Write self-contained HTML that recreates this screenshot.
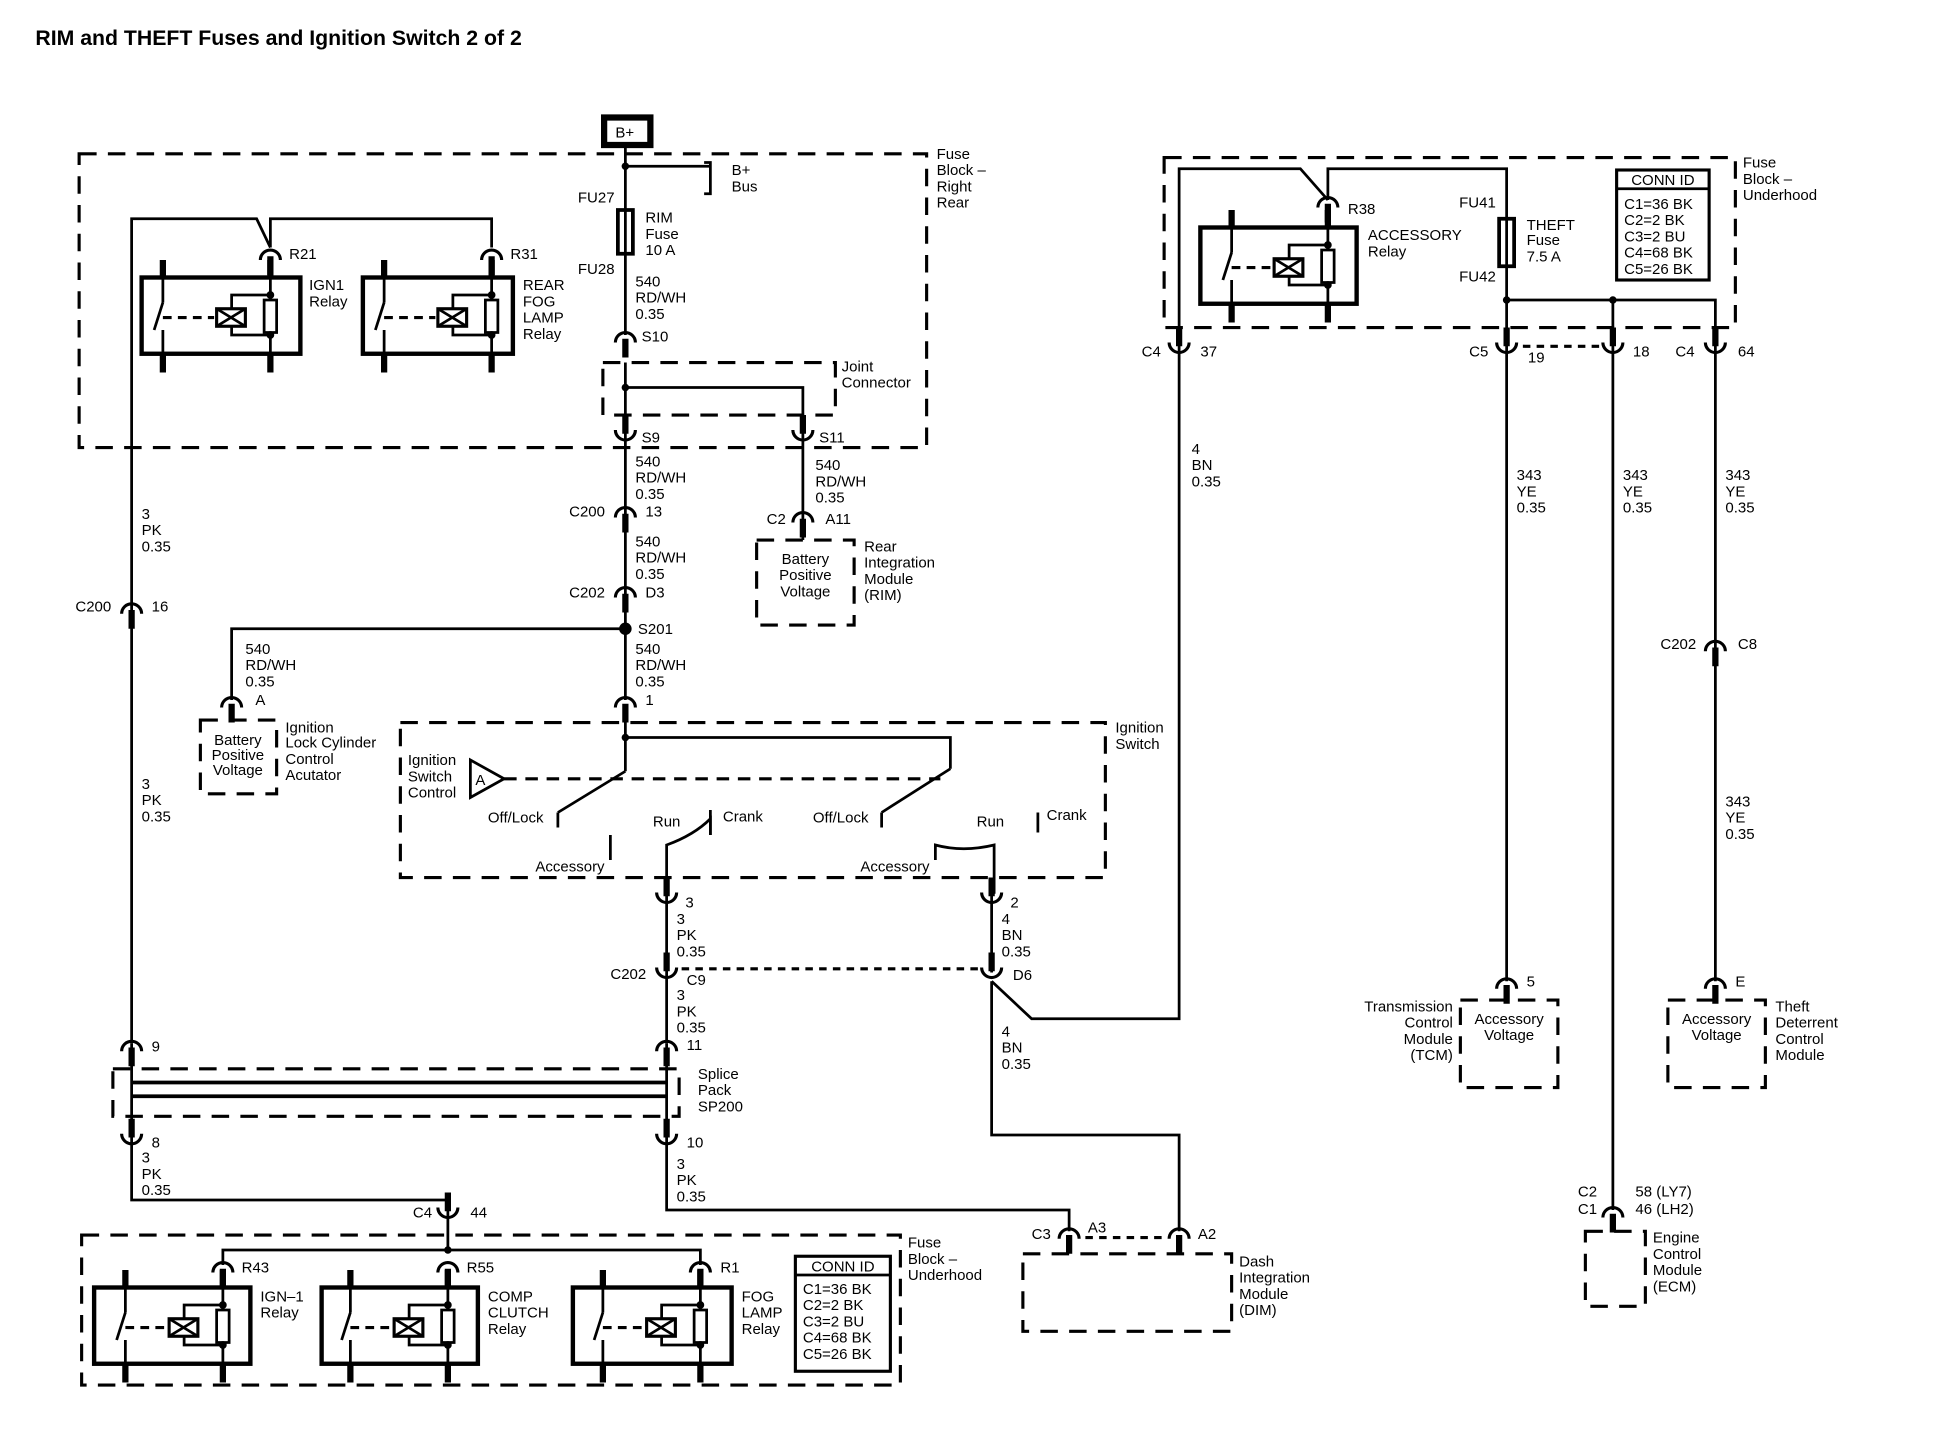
<!DOCTYPE html>
<html><head><meta charset="utf-8"><style>
html,body{margin:0;padding:0;background:#fff;}
svg{display:block;}
text{font-family:"Liberation Sans",sans-serif;font-size:12px;fill:#000;}
</style></head><body>
<svg width="1952" height="1440" viewBox="0 0 1561 1152" xmlns="http://www.w3.org/2000/svg">
<defs>
<g id="cn"><path d="M-8,6 A8,8 0 0 1 8,6" fill="none" stroke="#000" stroke-width="2.5"/><line x1="0" y1="3" x2="0" y2="18" stroke="#000" stroke-width="5"/></g>
<g id="cu"><path d="M-8,-6 A8,8 0 0 0 8,-6" fill="none" stroke="#000" stroke-width="2.5"/><line x1="0" y1="-3" x2="0" y2="-18" stroke="#000" stroke-width="5"/></g>
<g id="rl">
<line x1="0" y1="-14" x2="0" y2="0" stroke-width="5"/><line x1="0" y1="61" x2="0" y2="76" stroke-width="5"/>
<line x1="0" y1="0" x2="0" y2="20"/><line x1="0" y1="20" x2="-7" y2="42"/><line x1="0" y1="42" x2="0" y2="61"/>
</g>
<g id="rr">
<line x1="0" y1="-14" x2="0" y2="0" stroke-width="5"/><line x1="0" y1="61" x2="0" y2="76" stroke-width="5"/>
<line x1="0" y1="0" x2="0" y2="61"/>
<polyline points="0,14 -31,14 -31,46 0,46"/>
<rect x="-5" y="18" width="10" height="26" fill="#fff"/>
<rect x="-43" y="25" width="23" height="14" stroke-width="2.5" fill="#fff"/><path d="M-43,25 L-20,39 M-20,25 L-43,39"/>
<circle cx="0" cy="14" r="2" fill="#000"/><circle cx="0" cy="46" r="2" fill="#000"/>
</g>
</defs>
<g stroke="#000" fill="none" stroke-width="2.2">
<rect x="483" y="94" width="37" height="22" stroke-width="5"/>
<g stroke-dasharray="14,9" stroke-width="2.5">
<rect x="63" y="123" width="678" height="235"/>
<rect x="482" y="290" width="186" height="42"/>
<rect x="160" y="576" width="61" height="59"/>
<rect x="605" y="432" width="78" height="68"/>
<rect x="320" y="578" width="564" height="124"/>
<rect x="90" y="855" width="453" height="38"/>
<rect x="65" y="988" width="655" height="120"/>
<rect x="818" y="1003" width="167" height="62"/>
<rect x="931" y="126" width="457" height="136"/>
<rect x="1168" y="800" width="78" height="70"/>
<rect x="1334" y="800" width="78" height="70"/>
<rect x="1268" y="985" width="48" height="60"/>
</g>
<polyline points="500,117 500,268"/>
<polyline points="500,133 568,133"/>
<path d="M563,130 H568 V155 H563"/>
<rect x="494" y="168" width="12" height="35" stroke-width="3"/>
<line x1="500" y1="290" x2="500" y2="350"/>
<polyline points="500,310 642,310 642,350"/>
<line x1="500" y1="350" x2="500" y2="560"/>
<line x1="642" y1="350" x2="642" y2="432"/>
<polyline points="500,503 185,503 185,560"/>
<polyline points="500,575 500,590 760,590 760,615"/>
<line x1="500" y1="590" x2="500" y2="617"/>
<line x1="500" y1="617" x2="446" y2="650"/>
<line x1="446" y1="650" x2="446" y2="662"/>
<line x1="760" y1="615" x2="705" y2="650"/>
<line x1="705" y1="650" x2="705" y2="662"/>
<polygon points="376,608 376,638 403,623" fill="#fff"/>
<line x1="403" y1="623" x2="752" y2="623" stroke-dasharray="10,7" stroke-width="2.5"/>
<line x1="488" y1="668" x2="488" y2="688"/>
<path d="M533,715 V676 Q555,668 568,655 V668"/>
<line x1="568" y1="648" x2="568" y2="668"/>
<path d="M748,688 V676 Q770,682 795,676 V715"/>
<line x1="830" y1="650" x2="830" y2="666"/>
<line x1="533" y1="715" x2="533" y2="778"/>
<line x1="793" y1="715" x2="793" y2="778"/>
<line x1="545" y1="775" x2="783" y2="775" stroke-dasharray="6,5" stroke-width="2.5"/>
<line x1="533" y1="778" x2="533" y2="835"/>
<polyline points="793,785 825,815 943,815 943,280"/>
<polyline points="793,785 793,908 943,908 943,985"/>
<polyline points="216,198 205,175 105,175 105,835"/>
<polyline points="216,198 216,175 393,175 393,198"/>
<line x1="105" y1="835" x2="105" y2="910"/>
<line x1="533" y1="835" x2="533" y2="910"/>
<line x1="105" y1="866" x2="533" y2="866" stroke-width="3"/>
<line x1="105" y1="877" x2="533" y2="877" stroke-width="3"/>
<polyline points="105,910 105,960 358,960 358,1000"/>
<polyline points="533,910 533,968 855,968 855,985"/>
<polyline points="178,1012 178,1000 560,1000 560,1012"/>
<line x1="868" y1="990" x2="932" y2="990" stroke-dasharray="6,5" stroke-width="2.5"/>
<polyline points="943,280 943,135 1040,135 1062,160"/>
<polyline points="1062,160 1062,135 1205,135 1205,280"/>
<rect x="1199" y="175" width="12" height="38" stroke-width="3"/>
<polyline points="1205,240 1372,240 1372,280"/>
<line x1="1290" y1="240" x2="1290" y2="280"/>
<line x1="1218" y1="277" x2="1282" y2="277" stroke-dasharray="6,5" stroke-width="2.5"/>
<line x1="1205" y1="280" x2="1205" y2="785"/>
<line x1="1290" y1="280" x2="1290" y2="968"/>
<line x1="1372" y1="280" x2="1372" y2="785"/>
<rect x="636" y="1005" width="76" height="92" stroke-width="2.5"/>
<line x1="636" y1="1020" x2="712" y2="1020"/>
<rect x="1293" y="136" width="74" height="88" stroke-width="2.5"/>
<line x1="1293" y1="151" x2="1367" y2="151"/>
</g>
<g stroke="#000" fill="none" stroke-width="2.2">
<g transform="translate(113,222)"><rect x="0" y="0" width="127" height="61" stroke-width="3.5"/><use href="#rl" x="17" y="0"/><use href="#rr" x="103" y="0"/><line x1="17" y1="32" x2="58" y2="32" stroke-dasharray="7,5" stroke-width="2.5"/></g>
<g transform="translate(290,222)"><rect x="0" y="0" width="120" height="61" stroke-width="3.5"/><use href="#rl" x="17" y="0"/><use href="#rr" x="103" y="0"/><line x1="17" y1="32" x2="58" y2="32" stroke-dasharray="7,5" stroke-width="2.5"/></g>
<g transform="translate(960,182)"><rect x="0" y="0" width="125" height="61" stroke-width="3.5"/><use href="#rl" x="25" y="0"/><use href="#rr" x="102" y="0"/><line x1="25" y1="32" x2="57" y2="32" stroke-dasharray="7,5" stroke-width="2.5"/></g>
<g transform="translate(75,1030)"><rect x="0" y="0" width="125" height="61" stroke-width="3.5"/><use href="#rl" x="25" y="0"/><use href="#rr" x="103" y="0"/><line x1="25" y1="32" x2="58" y2="32" stroke-dasharray="7,5" stroke-width="2.5"/></g>
<g transform="translate(257,1030)"><rect x="0" y="0" width="125" height="61" stroke-width="3.5"/><use href="#rl" x="23" y="0"/><use href="#rr" x="101" y="0"/><line x1="23" y1="32" x2="56" y2="32" stroke-dasharray="7,5" stroke-width="2.5"/></g>
<g transform="translate(458,1030)"><rect x="0" y="0" width="127" height="61" stroke-width="3.5"/><use href="#rl" x="24" y="0"/><use href="#rr" x="102" y="0"/><line x1="24" y1="32" x2="57" y2="32" stroke-dasharray="7,5" stroke-width="2.5"/></g>
</g>
<g fill="#000">
<circle cx="500" cy="133" r="3"/><circle cx="500" cy="310" r="3"/><circle cx="500" cy="503" r="5"/><circle cx="500" cy="590" r="3"/>
<circle cx="1205" cy="240" r="3"/><circle cx="1290" cy="240" r="3"/><circle cx="358" cy="1000" r="3"/>
</g>
<use href="#cn" x="500" y="268"/>
<use href="#cu" x="500" y="350"/><use href="#cu" x="642" y="350"/>
<use href="#cn" x="500" y="408"/><use href="#cn" x="500" y="472"/>
<use href="#cn" x="185" y="560"/><use href="#cn" x="500" y="560"/>
<use href="#cn" x="642" y="412"/>
<use href="#cn" x="216" y="202"/><use href="#cn" x="393" y="202"/>
<use href="#cn" x="105" y="485"/><use href="#cn" x="105" y="835"/><use href="#cn" x="533" y="835"/>
<use href="#cu" x="533" y="720"/><use href="#cu" x="793" y="720"/>
<use href="#cu" x="533" y="780"/><use href="#cu" x="793" y="780"/>
<use href="#cu" x="105" y="913"/><use href="#cu" x="533" y="913"/>
<use href="#cu" x="358" y="972"/>
<use href="#cn" x="178" y="1012"/><use href="#cn" x="358" y="1012"/><use href="#cn" x="560" y="1012"/>
<use href="#cn" x="855" y="985"/><use href="#cn" x="943" y="985"/>
<use href="#cn" x="1062" y="160"/>
<use href="#cu" x="943" y="280"/><use href="#cu" x="1205" y="280"/><use href="#cu" x="1290" y="280"/><use href="#cu" x="1372" y="280"/>
<use href="#cn" x="1372" y="515"/>
<use href="#cn" x="1205" y="785"/><use href="#cn" x="1372" y="785"/><use href="#cn" x="1290" y="968"/>
<text x="28" y="36" style="font-size:17px;font-weight:bold">RIM and THEFT Fuses and Ignition Switch 2 of 2</text>
<text x="492" y="110">B+</text>
<text x="585" y="140">B+</text><text x="585" y="153">Bus</text>
<text x="749" y="127">Fuse</text><text x="749" y="140">Block –</text><text x="749" y="153">Right</text><text x="749" y="166">Rear</text>
<text x="462" y="162">FU27</text>
<text x="516" y="178">RIM</text><text x="516" y="191">Fuse</text><text x="516" y="204">10 A</text>
<text x="462" y="219">FU28</text>
<text x="508" y="229">540</text><text x="508" y="242">RD/WH</text><text x="508" y="255">0.35</text>
<text x="513" y="273">S10</text>
<text x="673" y="297">Joint</text><text x="673" y="310">Connector</text>
<text x="513" y="354">S9</text><text x="655" y="354">S11</text>
<text x="508" y="373">540</text><text x="508" y="386">RD/WH</text><text x="508" y="399">0.35</text>
<text x="455" y="413">C200</text><text x="516" y="413">13</text>
<text x="508" y="437">540</text><text x="508" y="450">RD/WH</text><text x="508" y="463">0.35</text>
<text x="455" y="478">C202</text><text x="516" y="478">D3</text>
<text x="510" y="507">S201</text>
<text x="508" y="523">540</text><text x="508" y="536">RD/WH</text><text x="508" y="549">0.35</text>
<text x="516" y="564">1</text>
<text x="196" y="523">540</text><text x="196" y="536">RD/WH</text><text x="196" y="549">0.35</text>
<text x="204" y="564">A</text>
<text x="190" y="596" text-anchor="middle">Battery</text><text x="190" y="608" text-anchor="middle">Positive</text><text x="190" y="620" text-anchor="middle">Voltage</text>
<text x="228" y="586">Ignition</text><text x="228" y="598">Lock Cylinder</text><text x="228" y="611">Control</text><text x="228" y="624">Acutator</text>
<text x="652" y="376">540</text><text x="652" y="389">RD/WH</text><text x="652" y="402">0.35</text>
<text x="613" y="419">C2</text><text x="660" y="419">A11</text>
<text x="644" y="451" text-anchor="middle">Battery</text><text x="644" y="464" text-anchor="middle">Positive</text><text x="644" y="477" text-anchor="middle">Voltage</text>
<text x="691" y="441">Rear</text><text x="691" y="454">Integration</text><text x="691" y="467">Module</text><text x="691" y="480">(RIM)</text>
<text x="892" y="586">Ignition</text><text x="892" y="599">Switch</text>
<text x="326" y="612">Ignition</text><text x="326" y="625">Switch</text><text x="326" y="638">Control</text>
<text x="380" y="628">A</text>
<text x="390" y="658">Off/Lock</text><text x="428" y="697">Accessory</text>
<text x="522" y="661">Run</text><text x="578" y="657">Crank</text>
<text x="650" y="658">Off/Lock</text><text x="688" y="697">Accessory</text>
<text x="781" y="661">Run</text><text x="837" y="656">Crank</text>
<text x="548" y="726">3</text><text x="808" y="726">2</text>
<text x="541" y="739">3</text><text x="541" y="752">PK</text><text x="541" y="765">0.35</text>
<text x="801" y="739">4</text><text x="801" y="752">BN</text><text x="801" y="765">0.35</text>
<text x="488" y="783">C202</text><text x="549" y="788">C9</text><text x="810" y="784">D6</text>
<text x="541" y="800">3</text><text x="541" y="813">PK</text><text x="541" y="826">0.35</text>
<text x="549" y="840">11</text>
<text x="801" y="829">4</text><text x="801" y="842">BN</text><text x="801" y="855">0.35</text>
<text x="953" y="363">4</text><text x="953" y="376">BN</text><text x="953" y="389">0.35</text>
<text x="113" y="415">3</text><text x="113" y="428">PK</text><text x="113" y="441">0.35</text>
<text x="60" y="489">C200</text><text x="121" y="489">16</text>
<text x="113" y="631">3</text><text x="113" y="644">PK</text><text x="113" y="657">0.35</text>
<text x="121" y="841">9</text>
<text x="231" y="207">R21</text><text x="408" y="207">R31</text>
<text x="247" y="232">IGN1</text><text x="247" y="245">Relay</text>
<text x="418" y="232">REAR</text><text x="418" y="245">FOG</text><text x="418" y="258">LAMP</text><text x="418" y="271">Relay</text>
<text x="558" y="863">Splice</text><text x="558" y="876">Pack</text><text x="558" y="889">SP200</text>
<text x="121" y="918">8</text><text x="549" y="918">10</text>
<text x="113" y="930">3</text><text x="113" y="943">PK</text><text x="113" y="956">0.35</text>
<text x="541" y="935">3</text><text x="541" y="948">PK</text><text x="541" y="961">0.35</text>
<text x="330" y="974">C4</text><text x="376" y="974">44</text>
<text x="193" y="1018">R43</text><text x="373" y="1018">R55</text><text x="576" y="1018">R1</text>
<text x="726" y="998">Fuse</text><text x="726" y="1011">Block –</text><text x="726" y="1024">Underhood</text>
<text x="208" y="1041">IGN–1</text><text x="208" y="1054">Relay</text>
<text x="390" y="1041">COMP</text><text x="390" y="1054">CLUTCH</text><text x="390" y="1067">Relay</text>
<text x="593" y="1041">FOG</text><text x="593" y="1054">LAMP</text><text x="593" y="1067">Relay</text>
<text x="674" y="1017" text-anchor="middle">CONN ID</text>
<text x="642" y="1035">C1=36 BK</text><text x="642" y="1048">C2=2 BK</text><text x="642" y="1061">C3=2 BU</text><text x="642" y="1074">C4=68 BK</text><text x="642" y="1087">C5=26 BK</text>
<text x="825" y="991">C3</text><text x="870" y="986">A3</text><text x="958" y="991">A2</text>
<text x="991" y="1013">Dash</text><text x="991" y="1026">Integration</text><text x="991" y="1039">Module</text><text x="991" y="1052">(DIM)</text>
<text x="1394" y="134">Fuse</text><text x="1394" y="147">Block –</text><text x="1394" y="160">Underhood</text>
<text x="1078" y="171">R38</text>
<text x="1094" y="192">ACCESSORY</text><text x="1094" y="205">Relay</text>
<text x="1167" y="166">FU41</text><text x="1167" y="225">FU42</text>
<text x="1221" y="184">THEFT</text><text x="1221" y="196">Fuse</text><text x="1221" y="209">7.5 A</text>
<text x="1330" y="148" text-anchor="middle">CONN ID</text>
<text x="1299" y="167">C1=36 BK</text><text x="1299" y="180">C2=2 BK</text><text x="1299" y="193">C3=2 BU</text><text x="1299" y="206">C4=68 BK</text><text x="1299" y="219">C5=26 BK</text>
<text x="913" y="285">C4</text><text x="960" y="285">37</text>
<text x="1175" y="285">C5</text><text x="1222" y="290">19</text><text x="1306" y="285">18</text>
<text x="1340" y="285">C4</text><text x="1390" y="285">64</text>
<text x="1213" y="384">343</text><text x="1213" y="397">YE</text><text x="1213" y="410">0.35</text>
<text x="1298" y="384">343</text><text x="1298" y="397">YE</text><text x="1298" y="410">0.35</text>
<text x="1380" y="384">343</text><text x="1380" y="397">YE</text><text x="1380" y="410">0.35</text>
<text x="1328" y="519">C202</text><text x="1390" y="519">C8</text>
<text x="1380" y="645">343</text><text x="1380" y="658">YE</text><text x="1380" y="671">0.35</text>
<text x="1221" y="789">5</text><text x="1388" y="789">E</text>
<text x="1207" y="819" text-anchor="middle">Accessory</text><text x="1207" y="832" text-anchor="middle">Voltage</text>
<text x="1162" y="809" text-anchor="end">Transmission</text><text x="1162" y="822" text-anchor="end">Control</text><text x="1162" y="835" text-anchor="end">Module</text><text x="1162" y="848" text-anchor="end">(TCM)</text>
<text x="1373" y="819" text-anchor="middle">Accessory</text><text x="1373" y="832" text-anchor="middle">Voltage</text>
<text x="1420" y="809">Theft</text><text x="1420" y="822">Deterrent</text><text x="1420" y="835">Control</text><text x="1420" y="848">Module</text>
<text x="1262" y="957">C2</text><text x="1262" y="971">C1</text><text x="1308" y="957">58 (LY7)</text><text x="1308" y="971">46 (LH2)</text>
<text x="1322" y="994">Engine</text><text x="1322" y="1007">Control</text><text x="1322" y="1020">Module</text><text x="1322" y="1033">(ECM)</text>
</svg>
</body></html>
